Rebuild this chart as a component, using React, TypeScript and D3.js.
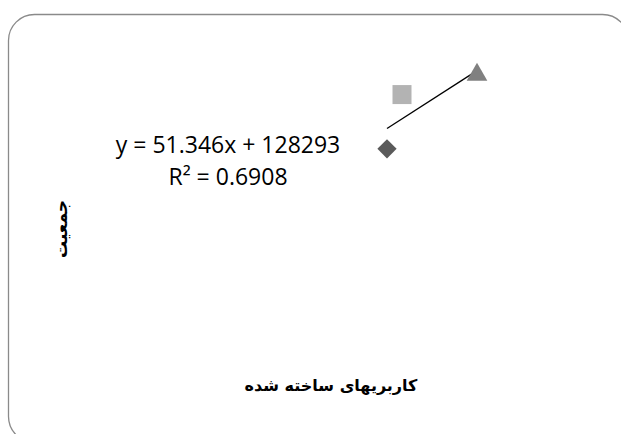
import React, { useRef, useEffect } from "react";
import * as d3 from "d3";

// built-up land uses (x) vs population (y), one point per series
const seriesNames = ["s1", "s2", "s3"];
const builtUp = [1000, 1200, 2200];
const population = [160000, 215600, 236000];
const markerShapes = ["diamond", "square", "triangle"];
const markerColors = ["#5a5a5a", "#b3b3b3", "#808080"];

const equationLines = ["y = 51.346x + 128293", "R² = 0.6908"];
const xTitle = "کاربریهای ساخته شده";
const yTitle = "جمعیت";

function App() {
  const ref = useRef<SVGSVGElement>(null);

  useEffect(() => {
    const svg = d3.select(ref.current);
    svg.selectAll("*").remove();

    const width = 621;
    const height = 434;

    // chart area frame
    svg
      .append("rect")
      .attr("x", 8.5)
      .attr("y", 14.5)
      .attr("width", 620)
      .attr("height", 428)
      .attr("rx", 26)
      .attr("ry", 26)
      .style("fill", "#fff")
      .style("stroke", "#8a8a8a")
      .style("stroke-width", 1.3);

    const x = d3.scaleLinear().domain([0, 2500]).range([312, 499.5]);
    const y = d3.scaleLinear().domain([0, 250000]).range([305, 61]);

    // least squares trend line
    const mx = d3.mean(builtUp)!;
    const my = d3.mean(population)!;
    const sxy = d3.sum(builtUp, (v, i) => (v - mx) * (population[i] - my));
    const sxx = d3.sum(builtUp, (v) => (v - mx) * (v - mx));
    const slope = sxy / sxx;
    const intercept = my - slope * mx;
    const [x0, x1] = d3.extent(builtUp) as [number, number];

    svg
      .append("path")
      .attr(
        "d",
        d3.line()([
          [x(x0), y(intercept + slope * x0)],
          [x(x1), y(intercept + slope * x1)],
        ])
      )
      .style("fill", "none")
      .style("stroke", "#000")
      .style("stroke-width", 1.3);

    const symbolFor = (s: string) => {
      if (s === "diamond") return d3.symbol(d3.symbolSquare, 185)();
      if (s === "square") return d3.symbol(d3.symbolSquare, 361)();
      return d3.symbol(d3.symbolTriangle, 185)();
    };

    svg
      .selectAll(".pt")
      .data(seriesNames)
      .enter()
      .append("path")
      .attr("class", "pt")
      .attr("d", (d, i) => symbolFor(markerShapes[i]))
      .attr(
        "transform",
        (d, i) =>
          `translate(${x(builtUp[i])},${y(population[i])})` +
          (markerShapes[i] === "diamond" ? " rotate(45)" : "")
      )
      .style("fill", (d, i) => markerColors[i]);

    // trendline label
    svg
      .selectAll(".eq")
      .data(equationLines)
      .enter()
      .append("text")
      .attr("class", "eq")
      .attr("x", 228)
      .attr("y", (d, i) => 153 + i * 32)
      .style("text-anchor", "middle")
      .style("font-family", "'Open Sans', sans-serif")
      .style("font-size", "23px")
      .style("fill", "#000")
      .text((d) => d);

    svg
      .append("text")
      .attr("transform", "translate(67,229) rotate(-90)")
      .style("text-anchor", "middle")
      .style("font-family", "'DejaVu Sans', sans-serif")
      .style("font-weight", "bold")
      .style("font-size", "17px")
      .attr("direction", "rtl")
      .text(yTitle);

    svg
      .append("text")
      .attr("x", 331)
      .attr("y", 391)
      .style("text-anchor", "middle")
      .style("font-family", "'DejaVu Sans', sans-serif")
      .style("font-weight", "bold")
      .style("font-size", "16px")
      .attr("direction", "rtl")
      .text(xTitle);

    svg.attr("width", width).attr("height", height);
  }, []);

  return (
    <svg
      ref={ref}
      width={621}
      height={434}
      style={{ position: "absolute", left: 0, top: 0 }}
    ></svg>
  );
}

export default App;
